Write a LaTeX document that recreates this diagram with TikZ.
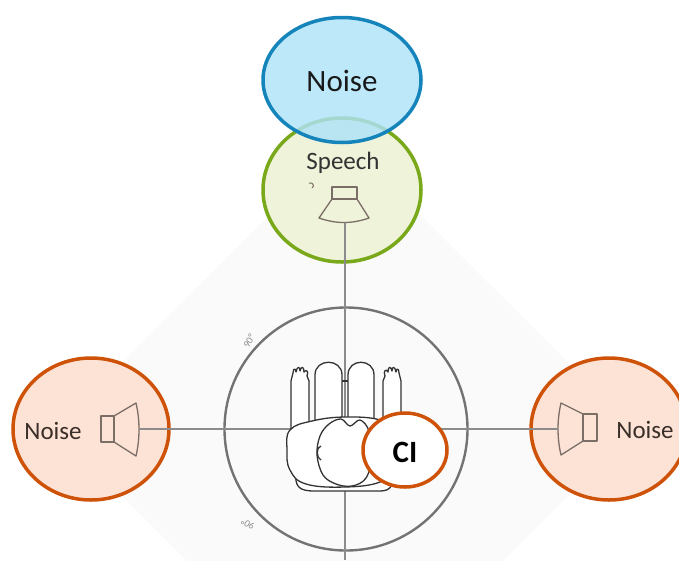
\documentclass[tikz,border=0pt]{standalone}
\usepackage{fontspec}
\setmainfont{Carlito}
\usetikzlibrary{shapes.geometric}
\begin{document}
\begin{tikzpicture}[x=1pt,y=-1pt,
  spkline/.style={draw=spkgray,line width=1.3pt,line join=round},
  axis/.style={draw=axisgray,line width=1.3pt},
  body/.style={draw=black!80,line width=1.3pt,fill=white,line join=round},
  txt/.style={font=\fontsize{25}{30}\selectfont,text=textdark,inner sep=0pt},
  deg/.style={font=\fontsize{10}{11}\selectfont,text=black!45,inner sep=0pt},
  ]
\definecolor{bluestroke}{HTML}{1484BA}
\definecolor{bluefill}{HTML}{AEE3F8}
\definecolor{greenstroke}{HTML}{79A81A}
\definecolor{greenfill}{HTML}{EEF3D9}
\definecolor{orangestroke}{HTML}{CF5209}
\definecolor{orangefill}{HTML}{FDE2D6}
\definecolor{spkgray}{HTML}{7B6E66}
\definecolor{axisgray}{HTML}{8C8C8C}
\definecolor{textdark}{HTML}{3A2E28}

\useasboundingbox (0,0) rectangle (679,560);
\clip (0,0) rectangle (679,560);

% faint floor area around the listener
\fill[black!2] (345,140) -- (635,429) -- (345,719) -- (55,429) -- cycle;

% listening circle with angle marks
\node[draw=black!55,line width=2.4pt,circle,minimum size=243pt,inner sep=0pt] (ring) at (346,429) {};
\node[deg,rotate=60] (d1) at (249,341) {90°};
\node[deg,rotate=148] (d2) at (248,524) {90°};

% loudspeaker zones
\node[draw=greenstroke,fill=greenfill,line width=3.5pt,ellipse,minimum width=158pt,minimum height=144pt,inner sep=0pt] (speechzone) at (342,190) {};
\node[draw=bluestroke,fill=bluefill,fill opacity=0.82,line width=3.5pt,ellipse,minimum width=158pt,minimum height=125pt,inner sep=0pt] (noisetop) at (342,80) {};
\node[draw=orangestroke,fill=orangefill,line width=3.5pt,ellipse,minimum width=156pt,minimum height=142pt,inner sep=0pt] (noiseleft) at (91,429) {};
\node[draw=orangestroke,fill=orangefill,line width=3.5pt,ellipse,minimum width=156pt,minimum height=142pt,inner sep=0pt] (noiseright) at (609,429) {};

\node[txt,text=black!90,font=\fontsize{31}{36}\selectfont] (lnoisetop) at (342,81) {Noise};
\node[txt,text=black!80] (lspeech) at (343,163) {Speech};
\node[txt] (lnoiseleft) at (53,431) {Noise};
\node[txt] (lnoiseright) at (645,430) {Noise};

% loudspeakers
\draw[spkline] (332,187) rectangle (357,199);
\draw[spkline] (332,199) -- (319,218) .. controls (336,224) and (352,224) .. (369,218) -- (357,199);
\coordinate (spkS) at (345,222.5);
\draw[spkline,line width=1pt] (309,183) .. controls (313,182) and (315,186) .. (312,188);

\draw[spkline] (101,416) rectangle (114,442);
\draw[spkline] (114,416) -- (136,403) .. controls (140,420) and (140,439) .. (136,456) -- (114,442);
\coordinate (spkL) at (139,429);

\draw[spkline] (583,414) rectangle (597,441);
\draw[spkline] (583,414) -- (561,403) .. controls (557,420) and (557,438) .. (561,455) -- (583,441);
\coordinate (spkR) at (558,429);

% axes
\coordinate (floor) at (345,560);
\draw[axis] (spkL) -- (spkR);
\draw[axis] (spkS) -- (floor);

% listener seen from above
\draw[body] (342,381) -- (348,381);
\draw[body] (315,425) -- (315,375) .. controls (315,358) and (342,358) .. (342,375) -- (342,425);
\draw[body] (348,425) -- (348,375) .. controls (348,358) and (374,358) .. (374,375) -- (374,425);
% arms and hands
\draw[body] (291,432) -- (291,381) -- (293,373) .. controls (293,368) and (296,368) .. (296,372)
  .. controls (297,366) and (300,366) .. (300,371) .. controls (301,366) and (304,366) .. (304,372)
  .. controls (306,369) and (309,371) .. (307,376) -- (309,381) -- (309,432);
\draw[body] (383,432) -- (383,381) -- (385,376) .. controls (383,371) and (386,368) .. (388,372)
  .. controls (388,366) and (391,366) .. (392,371) .. controls (392,366) and (395,366) .. (396,372)
  .. controls (396,368) and (399,368) .. (399,373) -- (401,381) -- (401,440);
% chair back and torso
\draw[body] (296,470) .. controls (294,488) and (300,491) .. (315,491) -- (380,491) .. controls (392,491) and (394,484) .. (392,470);
\draw[body] plot[smooth cycle,tension=0.7] coordinates {(290,430) (312,421) (345,417) (380,420) (393,432) (393,468) (380,482) (345,487) (306,484) (290,470) (287,450)};
\draw[body] plot[smooth cycle,tension=0.6] coordinates {(329,424) (341,419) (350,426) (360,420) (369,431) (372,456) (366,478) (352,486) (336,484) (323,475) (317,455) (320,436)};
\draw[body] (321,446) .. controls (316,447) and (316,458) .. (321,460);

% implant side
\node[draw=orangestroke,fill=white,line width=3.5pt,ellipse,minimum width=84pt,minimum height=74pt,inner sep=0pt] (ci) at (405,450) {};
\node[font=\fontsize{31}{36}\selectfont\bfseries,inner sep=0pt] (lci) at (405,452) {CI};
\end{tikzpicture}
\end{document}
